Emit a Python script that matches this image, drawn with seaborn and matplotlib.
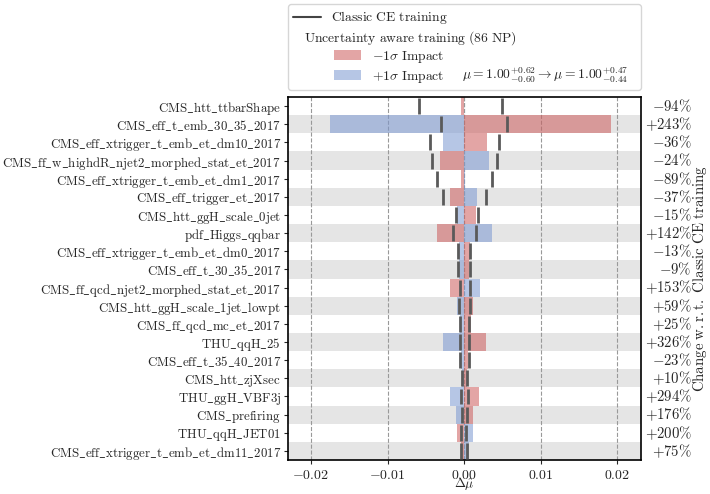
import numpy as np
import pandas as pd
import matplotlib
matplotlib.use("Agg")
import matplotlib.pyplot as plt
import matplotlib.transforms as mtransforms
from matplotlib.lines import Line2D
from matplotlib.patches import Rectangle, Patch
from matplotlib.text import Text
from matplotlib.legend_handler import HandlerBase
import seaborn as sns

# ---- nuisance parameters, ranked by impact ----
nuisances = [
    "CMS_htt_ttbarShape",
    "CMS_eff_t_emb_30_35_2017",
    "CMS_eff_xtrigger_t_emb_et_dm10_2017",
    "CMS_ff_w_highdR_njet2_morphed_stat_et_2017",
    "CMS_eff_xtrigger_t_emb_et_dm1_2017",
    "CMS_eff_trigger_et_2017",
    "CMS_htt_ggH_scale_0jet",
    "pdf_Higgs_qqbar",
    "CMS_eff_xtrigger_t_emb_et_dm0_2017",
    "CMS_eff_t_30_35_2017",
    "CMS_ff_qcd_njet2_morphed_stat_et_2017",
    "CMS_htt_ggH_scale_1jet_lowpt",
    "CMS_ff_qcd_mc_et_2017",
    "THU_qqH_25",
    "CMS_eff_t_35_40_2017",
    "CMS_htt_zjXsec",
    "THU_ggH_VBF3j",
    "CMS_prefiring",
    "THU_qqH_JET01",
    "CMS_eff_xtrigger_t_emb_et_dm11_2017",
]

# uncertainty aware training: shift of mu-hat for -1 sigma / +1 sigma
impact_minus = [-0.00035, 0.0192, 0.0030, -0.0032, -0.0004, -0.0018, 0.00155, -0.0035,
                0.00075, 0.0007, -0.0019, 0.00117, 0.00085, 0.0028, 0.0005, 0.00044,
                0.0019, 0.0011, -0.00087, -0.0004]
impact_plus = [0.00005, -0.01755, -0.0028, 0.00326, 0.0001, 0.0017, -0.00087, 0.0037,
               -0.0007, -0.0007, 0.0021, -0.00096, -0.0005, -0.0027, -0.0004, -0.0003,
               -0.0018, -0.001, 0.0011, 0.00065]

# classic cross-entropy training: down / up impacts
classic_down = [-0.0059, -0.0030, -0.0045, -0.0042, -0.00357, -0.0028, -0.0010, -0.0014,
                -0.00086, -0.00074, -0.0006, -0.0007, -0.0005, -0.0006, -0.0005, -0.0003,
                -0.0004, -0.00026, -0.00037, -0.00035]
classic_up = [0.0050, 0.0056, 0.00457, 0.0043, 0.0037, 0.0029, 0.00182, 0.0015,
              0.0008, 0.00078, 0.00083, 0.00074, 0.00068, 0.00066, 0.00065, 0.0004,
              0.00048, 0.0004, 0.0002, 0.00037]

# relative change of the impact w.r.t. the classic training (%)
change_pct = [-94, 243, -36, -24, -89, -37, -15, 142, -13, -9,
              153, 59, 25, 326, -23, 10, 294, 176, 200, 75]

n_np = 86
mu_classic = ("1.00", "+0.62", "-0.60")
mu_aware = ("1.00", "+0.47", "-0.44")

x_ticks = [-0.02, -0.01, 0.0, 0.01, 0.02]


def tex(s):
    return r"$\mathrm{" + s.replace("_", r"\_").replace(" ", r"\ ") + "}$"


def signed(v):
    sign = "{+}" if v >= 0 else "{-}"
    return f"${sign}{abs(v)}\\%$"


sns.set_style("ticks")
plt.rcParams.update({
    "mathtext.fontset": "cm",
    "font.family": ["DejaVu Serif"],
    "font.size": 10,
})

YFS = 9.3     # nuisance names
XFS = 10.0    # x tick labels
RFS = 10.7    # right-hand percentages
LFS = 9.8     # legend
RED = "#cd5c5c"
BLUE = "#7a97d1"
ALPHA = 0.55
STRIPE = "#e5e5e5"

fig = plt.figure(figsize=(7.10, 4.94), dpi=100)
ax = fig.add_axes([0.4056, 0.0688, 0.4972, 0.7348])

df = pd.DataFrame({
    "nuisance": [tex(n) for n in nuisances],
    "minus": impact_minus,
    "plus": impact_plus,
})

n = len(nuisances)
rows = np.arange(n)

# alternating row shading
for i in rows[1::2]:
    ax.axhspan(i - 0.5, i + 0.5, color=STRIPE, lw=0, zorder=0)

sns.barplot(data=df, x="minus", y="nuisance", orient="h", color=RED, alpha=ALPHA,
            width=1.0, saturation=1, linewidth=0, ax=ax, zorder=2)
sns.barplot(data=df, x="plus", y="nuisance", orient="h", color=BLUE, alpha=ALPHA,
            width=1.0, saturation=1, linewidth=0, ax=ax, zorder=2)

# classic training impacts as vertical markers per row
ax.vlines(classic_down, rows - 0.44, rows + 0.44, color="#5a5a5a", lw=2.0, zorder=4)
ax.vlines(classic_up, rows - 0.44, rows + 0.44, color="#5a5a5a", lw=2.0, zorder=4)

ax.set_xlim(-0.023, 0.0231)
ax.set_ylim(n - 0.5, -0.5)
ax.set_xticks(x_ticks)
ax.xaxis.set_major_formatter(plt.FuncFormatter(lambda v, p: f"${v:.2f}$"))
ax.set_axisbelow(True)
ax.grid(axis="x", ls="--", color="#999999", lw=0.8)
ax.grid(axis="y", visible=False)
ax.axvline(0, ls="--", color="#999999", lw=0.8, zorder=1)
ax.set_xlabel(r"$\Delta\hat{\mu}$", fontsize=9.5)
ax.xaxis.label.set_va("center")
ax.xaxis.set_label_coords(0.5, -0.068)
ax.set_ylabel("")
ax.tick_params(axis="both", length=3, width=0.8, direction="out")
ax.tick_params(axis="x", pad=3, labelsize=XFS)
ax.tick_params(axis="y", pad=2, labelsize=YFS)
for sp in ax.spines.values():
    sp.set_visible(True)
    sp.set_color("black")
    sp.set_linewidth(1.2)

# right-hand column with relative change
trans = mtransforms.blended_transform_factory(ax.transAxes, ax.transData)
for i, c in zip(rows, change_pct):
    ax.text(1.144, i, signed(c), transform=trans, ha="right", va="center", fontsize=RFS)
fig.text(0.986, 0.0688 + 0.7348 / 2, tex("Change w.r.t. Classic CE training"),
         rotation=90, ha="center", va="center", fontsize=RFS)


# ---- legend ----
class Heading:
    def __init__(self, text):
        self.text = text


class HeadingHandler(HandlerBase):
    """Handle-less row whose text starts inside the handle column."""

    def legend_artist(self, legend, orig_handle, fontsize, handlebox):
        t = Text(0.75 * fontsize, 0, orig_handle.text, fontsize=fontsize,
                 ha="left", va="baseline")
        handlebox.add_artist(t)
        return t


class ShiftedPatchHandler(HandlerBase):
    """Indented patch, optionally followed by a trailing annotation on the same row."""

    def __init__(self, shift, note=None, note_x=0.0):
        super().__init__()
        self.shift = shift
        self.note = note
        self.note_x = note_x

    def legend_artist(self, legend, orig_handle, fontsize, handlebox):
        artist = super().legend_artist(legend, orig_handle, fontsize, handlebox)
        if self.note is not None:
            t = Text(self.note_x * fontsize, 0, self.note, fontsize=fontsize,
                     ha="left", va="baseline")
            handlebox.add_artist(t)
        return artist

    def create_artists(self, legend, orig_handle, xdescent, ydescent, width, height,
                       fontsize, trans):
        r = Rectangle((-xdescent + self.shift * fontsize, -ydescent), width, height,
                      facecolor=orig_handle.get_facecolor(), edgecolor="none",
                      transform=trans)
        return [r]


h_line = Line2D([], [], color="#444444", lw=1.5)
h_head = Heading(tex(f"Uncertainty aware training ({n_np} NP)"))
h_red = Patch(facecolor=RED, alpha=ALPHA)
h_blue = Patch(facecolor=BLUE, alpha=ALPHA)

lab_line = tex("Classic CE training")
lab_red = r"$\qquad\quad\;\,{-}1\sigma\ \mathrm{Impact}$"
lab_blue = r"$\qquad\quad\;\,{+}1\sigma\ \mathrm{Impact}$"
mu_note = (rf"$\mu = {mu_classic[0]}^{{{mu_classic[1]}}}_{{{mu_classic[2]}}}"
           + r" \rightarrow "
           + rf"\mu = {mu_aware[0]}^{{{mu_aware[1]}}}_{{{mu_aware[2]}}}$")

shift = 2.95
leg = ax.legend([h_line, h_head, h_red, h_blue], [lab_line, "", lab_red, lab_blue],
                handler_map={Heading: HeadingHandler(),
                             h_red: ShiftedPatchHandler(shift),
                             h_blue: ShiftedPatchHandler(shift, mu_note, 12.4)},
                loc="lower left", bbox_to_anchor=(0, 1.019, 1, 0.1), mode="expand",
                borderaxespad=0, fontsize=LFS, frameon=True, handlelength=2.0,
                handletextpad=0.75, labelspacing=0.3, borderpad=0.4)
leg.get_frame().set_edgecolor("#cccccc")

fig.savefig("out.png", dpi=100)
